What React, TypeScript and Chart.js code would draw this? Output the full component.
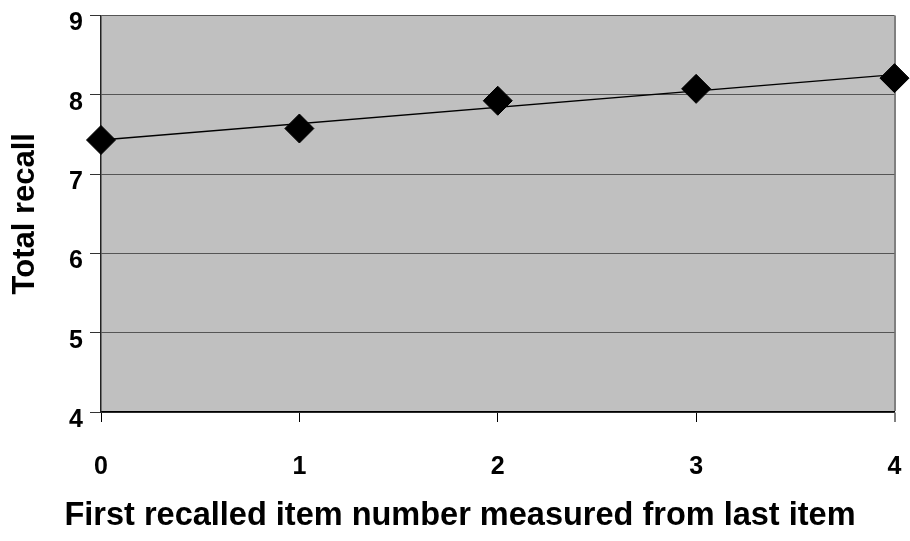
import React, { useEffect, useRef } from "react";
import { Chart, registerables } from "chart.js";

Chart.register(...registerables);

// ---- data ----
const xTicks = [0, 1, 2, 3, 4];
const recall = [7.43, 7.575, 7.925, 8.075, 8.21];
const trendX = [0, 4];
const trendY = [7.43, 8.255];
const yTicks = [4, 5, 6, 7, 8, 9];
const xTitle = "First recalled item number measured from last item";
const yTitle = "Total recall";

const FONT = "'Liberation Sans', Arial, sans-serif";

const zeroPad = (scale: any) => {
  scale.paddingTop = 0;
  scale.paddingBottom = 0;
  scale.paddingLeft = 0;
  scale.paddingRight = 0;
};

export default function App() {
  const ref = useRef<HTMLCanvasElement | null>(null);

  useEffect(() => {
    if (!ref.current) return;

    const plotBg = {
      id: "plotBg",
      beforeDraw(chart: any) {
        const { ctx, chartArea } = chart;
        ctx.save();
        ctx.fillStyle = "#C0C0C0";
        ctx.fillRect(chartArea.left, chartArea.top, chartArea.right - chartArea.left, chartArea.bottom - chartArea.top);
        ctx.restore();
      },
    };

    const xTitlePlugin = {
      id: "xTitlePlugin",
      afterDraw(chart: any) {
        const { ctx } = chart;
        ctx.save();
        ctx.font = `bold 32.5px ${FONT}`;
        ctx.fillStyle = "#000";
        ctx.textAlign = "center";
        ctx.textBaseline = "middle";
        ctx.fillText(xTitle, 460, 516);
        ctx.restore();
      },
    };

    const chart = new Chart(ref.current, {
      type: "scatter",
      data: {
        datasets: [
          {
            label: "Total recall",
            data: xTicks.map((x, i) => ({ x, y: recall[i] })),
            showLine: false,
            pointStyle: "rectRot",
            pointRadius: 14.5,
            pointHoverRadius: 14.5,
            pointBackgroundColor: "#000",
            pointBorderColor: "#000",
            pointBorderWidth: 1,
            clip: false as any,
          },
          {
            label: "Trend",
            data: trendX.map((x, i) => ({ x, y: trendY[i] })),
            showLine: true,
            borderColor: "#000",
            borderWidth: 1.3,
            pointRadius: 0,
            pointHoverRadius: 0,
            clip: false as any,
          },
        ],
      },
      options: {
        animation: false,
        responsive: false,
        devicePixelRatio: 1,
        layout: { padding: { top: 9, right: 13, left: 0, bottom: 0 } },
        plugins: {
          legend: { display: false },
          tooltip: { enabled: false },
        },
        scales: {
          x: {
            type: "linear",
            min: 0,
            max: 4,
            afterBuildTicks: (scale: any) => {
              scale.ticks = xTicks.map((v) => ({ value: v }));
            },
            afterFit: (scale: any) => {
              scale.height = 129;
              zeroPad(scale);
            },
            ticks: {
              font: { family: FONT, size: 25, weight: "bold" },
              color: "#000",
              padding: 30,
              maxRotation: 0,
              autoSkip: false,
              callback: (v: any) => String(v),
            },
            grid: {
              color: (c: any) => (c.tick && c.tick.value === 4 ? "#808080" : "rgba(0,0,0,0)"),
              lineWidth: (c: any) => (c.tick && c.tick.value === 4 ? 2 : 1),
              tickColor: (c: any) => (c.tick && c.tick.value === 4 ? "#808080" : "#000"),
              tickLength: 10,
              drawTicks: true,
            },
            border: { display: true, color: "#000", width: 1.5 },
            title: { display: false },
          },
          y: {
            type: "linear",
            min: 4,
            max: 9,
            afterBuildTicks: (scale: any) => {
              scale.ticks = yTicks.map((v) => ({ value: v }));
            },
            afterFit: (scale: any) => {
              scale.width = 101;
              zeroPad(scale);
            },
            ticks: {
              font: { family: FONT, size: 25, weight: "bold" },
              color: "#000",
              padding: 7,
              labelOffset: 8,
              callback: (v: any) => String(v),
            },
            grid: {
              color: "#555555",
              lineWidth: 1,
              tickColor: "#333333",
              tickLength: 11,
            },
            border: { display: true, color: "#222", width: 1.5 },
            title: {
              display: true,
              text: yTitle,
              color: "#000",
              font: { family: FONT, size: 31, weight: "bold" },
              padding: { top: 7, bottom: 0 },
            },
          },
        },
      },
      plugins: [plotBg, xTitlePlugin],
    });

    return () => chart.destroy();
  }, []);

  return (
    <div style={{ position: "fixed", left: 0, top: 0, width: 910, height: 541, background: "#fff" }}>
      <canvas ref={ref} width={910} height={541} style={{ display: "block", width: 910, height: 541 }} />
    </div>
  );
}
